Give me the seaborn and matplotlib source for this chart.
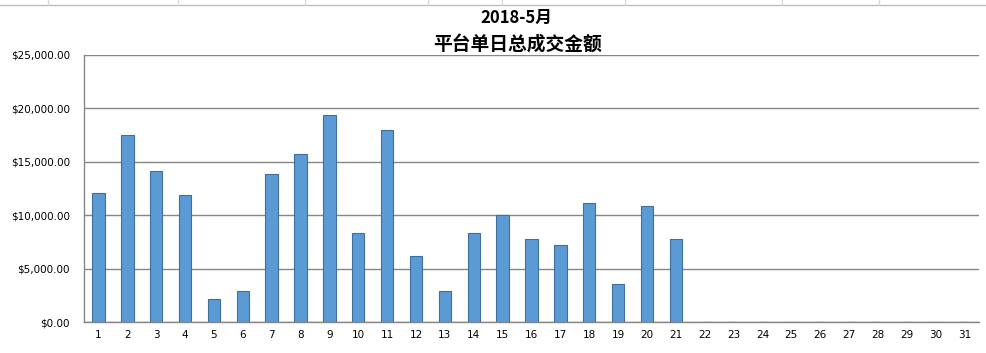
import matplotlib
matplotlib.use("Agg")
import matplotlib.pyplot as plt
import seaborn as sns
import pandas as pd
from matplotlib.lines import Line2D
from matplotlib.ticker import FuncFormatter, FixedLocator

# daily totals for May 2018 (days 22-31 have no data yet)
days = list(range(1, 32))
amounts = [12050, 17500, 14140, 11900, 2180, 2925, 13860, 15730, 19375, 8320,
           17970, 6225, 2925, 8320, 10000, 7785, 7225, 11120, 3580, 10870,
           7785, 0, 0, 0, 0, 0, 0, 0, 0, 0, 0]
title_lines = ["2018-5月", "平台单日总成交金额"]

df = pd.DataFrame({"day": [str(d) for d in days], "amount": amounts})

sns.set_style("white")
plt.rcParams['font.family'] = ['Noto Sans CJK SC', 'DejaVu Sans']

fig = plt.figure(figsize=(9.87, 3.53), dpi=100)
ax = fig.add_axes([84 / 987, 1 - 322 / 353, (979 - 84) / 987, (322 - 55) / 353])

sns.barplot(data=df, x="day", y="amount", color="#5B9BD5", width=0.43,
            edgecolor="#3F6F9F", linewidth=0.8, saturation=1, ax=ax)

ax.set_xlim(-0.5, 30.5)
ax.set_ylim(0, 25000)
ax.set_yticks(range(0, 25001, 5000))
ax.yaxis.set_major_formatter(FuncFormatter(lambda v, p: "${:,.2f}".format(v)))
ax.grid(axis="y", color="#868686", linewidth=1)
ax.set_axisbelow(True)
ax.set_xlabel("")
ax.set_ylabel("")

for s in ["top", "right"]:
    ax.spines[s].set_visible(False)
for s in ["left", "bottom"]:
    ax.spines[s].set_color("#868686")
    ax.spines[s].set_linewidth(1)

# ticks between categories like Excel
ax.xaxis.set_minor_locator(FixedLocator([i - 0.5 for i in range(32)]))
ax.tick_params(axis="x", which="minor", length=4, color="#868686", direction="out")
ax.tick_params(axis="x", which="major", length=0, labelsize=7.5, pad=6, labelcolor="black")
ax.tick_params(axis="y", length=4, color="#868686", direction="out",
               labelsize=7.5, pad=6, labelcolor="black")
for lab in ax.get_yticklabels() + ax.get_xticklabels():
    lab.set_family("DejaVu Sans")

fig.text(516 / 987, 1 - 18 / 353, title_lines[0], ha="center", va="center",
         fontsize=12, fontweight="bold", color="black")
fig.text(517 / 987, 1 - 45 / 353, title_lines[1], ha="center", va="center",
         fontsize=13.5, fontweight="bold", color="black")

# spreadsheet cell borders visible above the chart
y5 = 1 - 5 / 353
fig.add_artist(Line2D([0, 1], [y5, y5], color="#BDBDBD", linewidth=1))
for xp in [48, 178, 305, 428, 502, 625, 782, 879]:
    fig.add_artist(Line2D([xp / 987, xp / 987], [y5, 1], color="#D9D9D9", linewidth=1))

fig.savefig("out.png", dpi=100)
